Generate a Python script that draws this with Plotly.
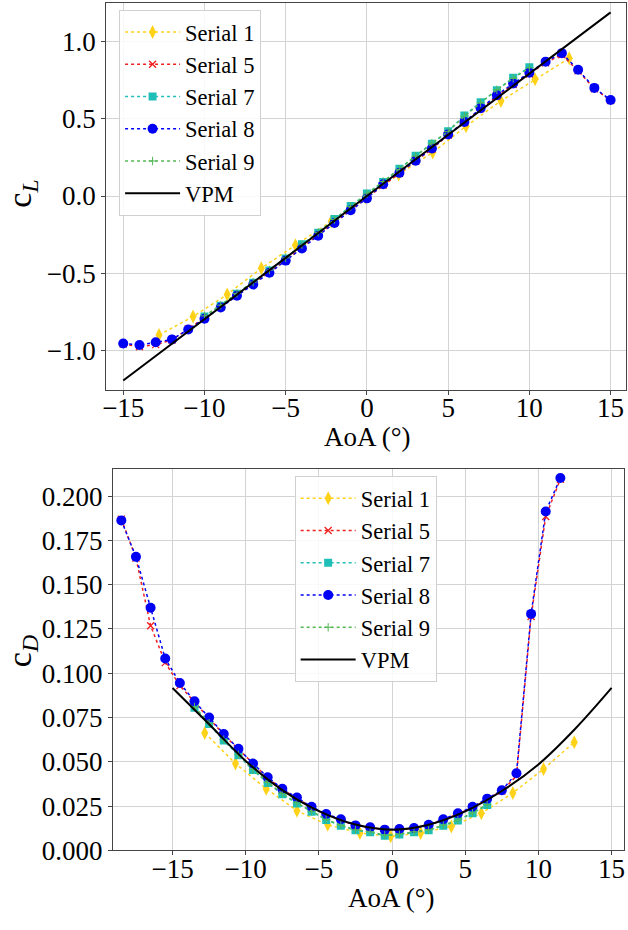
import plotly.graph_objects as go

# ---------------- data: lift (top) ----------------
aoa_top = [-15, -14, -13, -12, -11, -10, -9, -8, -7, -6, -5, -4, -3, -2, -1, 0,
           1, 2, 3, 4, 5, 6, 7, 8, 9, 10, 11, 12, 13, 14, 15]
cl_s8 = [-0.955, -0.964, -0.947, -0.928, -0.864, -0.794, -0.722, -0.646, -0.573, -0.497,
         -0.418, -0.340, -0.257, -0.174, -0.092, -0.015, 0.076, 0.150, 0.229, 0.308,
         0.399, 0.480, 0.569, 0.653, 0.728, 0.798, 0.870, 0.925, 0.817, 0.700, 0.622]
cl_s5 = [-0.958, -0.975, -0.962, -0.932, -0.860, -0.790, -0.718, -0.642, -0.570, -0.493,
         -0.415, -0.336, -0.254, -0.172, -0.090, -0.012, 0.072, 0.148, 0.226, 0.305,
         0.395, 0.476, 0.565, 0.648, 0.722, 0.790, 0.862, 0.915, 0.810, 0.695, 0.618]
aoa_s7_top = [-10, -9, -8, -7, -6, -5, -4, -3, -2, -1, 0, 1, 2, 3, 4, 5, 6, 7, 8, 9, 10]
cl_s7 = [-0.780, -0.710, -0.633, -0.561, -0.482, -0.404, -0.312, -0.238, -0.149, -0.064,
         0.017, 0.091, 0.176, 0.261, 0.339, 0.420, 0.522, 0.607, 0.685, 0.766, 0.834]
cl_s9 = [-0.776, -0.706, -0.630, -0.557, -0.479, -0.400, -0.315, -0.235, -0.152, -0.067,
         0.014, 0.094, 0.173, 0.258, 0.342, 0.417, 0.518, 0.603, 0.688, 0.762, 0.830]
aoa_s1 = [-12.8, -10.7, -8.6, -6.5, -4.4, -2.2, -0.1, 1.95, 4.05, 6.1, 8.25, 10.35, 12.45]
cl_s1 = [-0.900, -0.780, -0.637, -0.467, -0.318, -0.165, -0.010, 0.140, 0.282, 0.452,
         0.616, 0.756, 0.892]
aoa_vpm_top = [-15, -10, -5, 0, 5, 10, 15]
cl_vpm = [-1.194, -0.798, -0.400, 0.000, 0.398, 0.795, 1.189]

# ---------------- data: drag (bottom) ----------------
aoa_bot = [-18.5, -17.5, -16.5, -15.5, -14.5, -13.5, -12.5, -11.5, -10.5, -9.5, -8.5,
           -7.5, -6.5, -5.5, -4.5, -3.5, -2.5, -1.5, -0.5, 0.5, 1.5, 2.5, 3.5, 4.5,
           5.5, 6.5, 7.5, 8.5, 9.5, 10.5, 11.5]
cd_s8 = [0.1863, 0.1657, 0.1370, 0.1083, 0.0945, 0.0842, 0.0750, 0.0657, 0.0574, 0.0490,
         0.0413, 0.0348, 0.0298, 0.0246, 0.0205, 0.0176, 0.0141, 0.0131, 0.0117, 0.0120,
         0.0126, 0.0144, 0.0176, 0.0209, 0.0246, 0.0292, 0.0339, 0.0435, 0.1335, 0.1913,
         0.2102]
cd_s5 = [0.1870, 0.1650, 0.1268, 0.1060, 0.0930, 0.0835, 0.0745, 0.0652, 0.0570, 0.0487,
         0.0410, 0.0345, 0.0295, 0.0243, 0.0203, 0.0173, 0.0139, 0.0129, 0.0116, 0.0119,
         0.0124, 0.0141, 0.0172, 0.0205, 0.0242, 0.0288, 0.0335, 0.0420, 0.1320, 0.1885,
         0.2095]
aoa_s7_bot = [-13.5, -12.5, -11.5, -10.5, -9.5, -8.5, -7.5, -6.5, -5.5, -4.5, -3.5, -2.5,
              -1.5, -0.5, 0.5, 1.5, 2.5, 3.5, 4.5, 5.5, 6.5]
cd_s7 = [0.0805, 0.0713, 0.0620, 0.0537, 0.0453, 0.0380, 0.0317, 0.0265, 0.0218, 0.0172,
         0.0139, 0.0113, 0.0102, 0.0083, 0.0089, 0.0102, 0.0113, 0.0139, 0.0168, 0.0209,
         0.0256]
cd_s9 = [0.0810, 0.0718, 0.0625, 0.0540, 0.0457, 0.0384, 0.0320, 0.0268, 0.0221, 0.0175,
         0.0142, 0.0116, 0.0105, 0.0086, 0.0092, 0.0105, 0.0116, 0.0142, 0.0171, 0.0212,
         0.0259]
cd_s1 = [0.0663, 0.0490, 0.0348, 0.0224, 0.0144, 0.0098, 0.0079, 0.0098, 0.0135, 0.0209,
         0.0324, 0.0459, 0.0611]
aoa_vpm_bot = [-15, -12.5, -10, -7.5, -5, -2.5, 0, 2.5, 5, 7.5, 10, 12.5, 15]
cd_vpm = [0.0917, 0.0712, 0.0505, 0.0340, 0.0222, 0.0146, 0.0117, 0.0145, 0.0220, 0.0335,
          0.0485, 0.0685, 0.0917]

x_ticks = [-15, -10, -5, 0, 5, 10, 15]
cl_ticks = [-1.0, -0.5, 0.0, 0.5, 1.0]
cd_ticks = [0, 0.025, 0.05, 0.075, 0.1, 0.125, 0.15, 0.175, 0.2]
names = ["Serial 1", "Serial 5", "Serial 7", "Serial 8", "Serial 9", "VPM"]

FONT = "Liberation Serif, Times New Roman, serif"
styles = {
    "Serial 1": dict(color="#FFD21A", symbol="diamond-tall", size=10, lw=0),
    "Serial 5": dict(color="#F02020", symbol="x-thin", size=7, lw=1.3),
    "Serial 7": dict(color="#1FBFB8", symbol="square", size=8, lw=0),
    "Serial 8": dict(color="#0000F5", symbol="circle", size=10, lw=0),
    "Serial 9": dict(color="#55B855", symbol="cross-thin", size=6, lw=1),
}

fig = go.Figure()


def add_series(name, x, y, xa, ya, legend):
    s = styles[name]
    fig.add_trace(go.Scatter(
        x=x, y=y, name=name, mode="lines+markers",
        line=dict(color=s["color"], width=1.5, dash="dot"),
        marker=dict(color=s["color"], symbol=s["symbol"], size=s["size"],
                    line=dict(color=s["color"], width=s["lw"])),
        xaxis=xa, yaxis=ya, legend=legend))


top = {"Serial 1": (aoa_s1, cl_s1), "Serial 5": (aoa_top, cl_s5),
       "Serial 7": (aoa_s7_top, cl_s7), "Serial 8": (aoa_top, cl_s8),
       "Serial 9": (aoa_s7_top, cl_s9)}
bot = {"Serial 1": (aoa_s1, cd_s1), "Serial 5": (aoa_bot, cd_s5),
       "Serial 7": (aoa_s7_bot, cd_s7), "Serial 8": (aoa_bot, cd_s8),
       "Serial 9": (aoa_s7_bot, cd_s9)}

for n in names[:5]:
    add_series(n, *top[n], "x", "y", "legend")
fig.add_trace(go.Scatter(x=aoa_vpm_top, y=cl_vpm, name="VPM", mode="lines",
                         line=dict(color="black", width=2), xaxis="x", yaxis="y",
                         legend="legend"))
for n in names[:5]:
    add_series(n, *bot[n], "x2", "y2", "legend2")
fig.add_trace(go.Scatter(x=aoa_vpm_bot, y=cd_vpm, name="VPM", mode="lines",
                         line=dict(color="black", width=2, shape="spline"),
                         xaxis="x2", yaxis="y2", legend="legend2"))

W, H = 628, 930
axis_common = dict(showgrid=True, gridcolor="#d3d3d3", gridwidth=1, zeroline=False,
                   showline=True, linecolor="#444", linewidth=1.2, mirror=True,
                   ticks="outside", ticklen=4, tickcolor="#444",
                   tickfont=dict(family=FONT, size=27, color="black"))

legend_common = dict(font=dict(family=FONT, size=22.5, color="black"),
                     bgcolor="rgba(255,255,255,0.85)", bordercolor="#d0d0d0",
                     borderwidth=1, xanchor="left", yanchor="top",
                     itemwidth=55, tracegroupgap=0)

title_font = dict(family=FONT, size=27, color="black")
ytitle_font = dict(family=FONT, size=34, color="black")

fig.update_layout(
    width=W, height=H, margin=dict(l=0, r=0, t=0, b=0),
    paper_bgcolor="white", plot_bgcolor="white",
    xaxis=dict(domain=[103 / W, 626.7 / W], range=[-16.05, 15.93],
               tickvals=x_ticks, anchor="y", ticklabelstandoff=-10, **axis_common),
    yaxis=dict(domain=[1 - 396 / H, 1 - 3.3 / H], range=[-1.253, 1.248],
               tickvals=cl_ticks, tickformat=".1f", anchor="x", **axis_common),
    xaxis2=dict(domain=[110 / W, 625 / W], range=[-19.06, 15.85],
                tickvals=x_ticks, anchor="y2", ticklabelstandoff=-10, **axis_common),
    yaxis2=dict(domain=[1 - 864.3 / H, 1 - 476.7 / H], range=[0, 0.2153],
                tickvals=cd_ticks, tickformat=".3f", anchor="x2", **axis_common),
    legend=dict(x=116 / W, y=1 - 10 / H, **legend_common),
    legend2=dict(x=293 / W, y=1 - 484 / H, **legend_common),
    showlegend=True,
    annotations=[
        dict(text="AoA (°)", x=366 / W, y=1 - 444 / H, xref="paper", yref="paper",
             xanchor="center", yanchor="middle", showarrow=False, font=title_font),
        dict(text="AoA (°)", x=391 / W, y=1 - 913 / H, xref="paper", yref="paper",
             xanchor="center", yanchor="middle", showarrow=False, font=title_font),
        dict(text="c<sub><i>L</i></sub>", x=18 / W, y=1 - 197 / H, xref="paper",
             yref="paper", xanchor="center", yanchor="middle", textangle=-90,
             showarrow=False, font=ytitle_font),
        dict(text="c<sub><i>D</i></sub>", x=18 / W, y=1 - 662 / H, xref="paper",
             yref="paper", xanchor="center", yanchor="middle", textangle=-90,
             showarrow=False, font=ytitle_font),
    ],
)

fig.write_html("out.html")
